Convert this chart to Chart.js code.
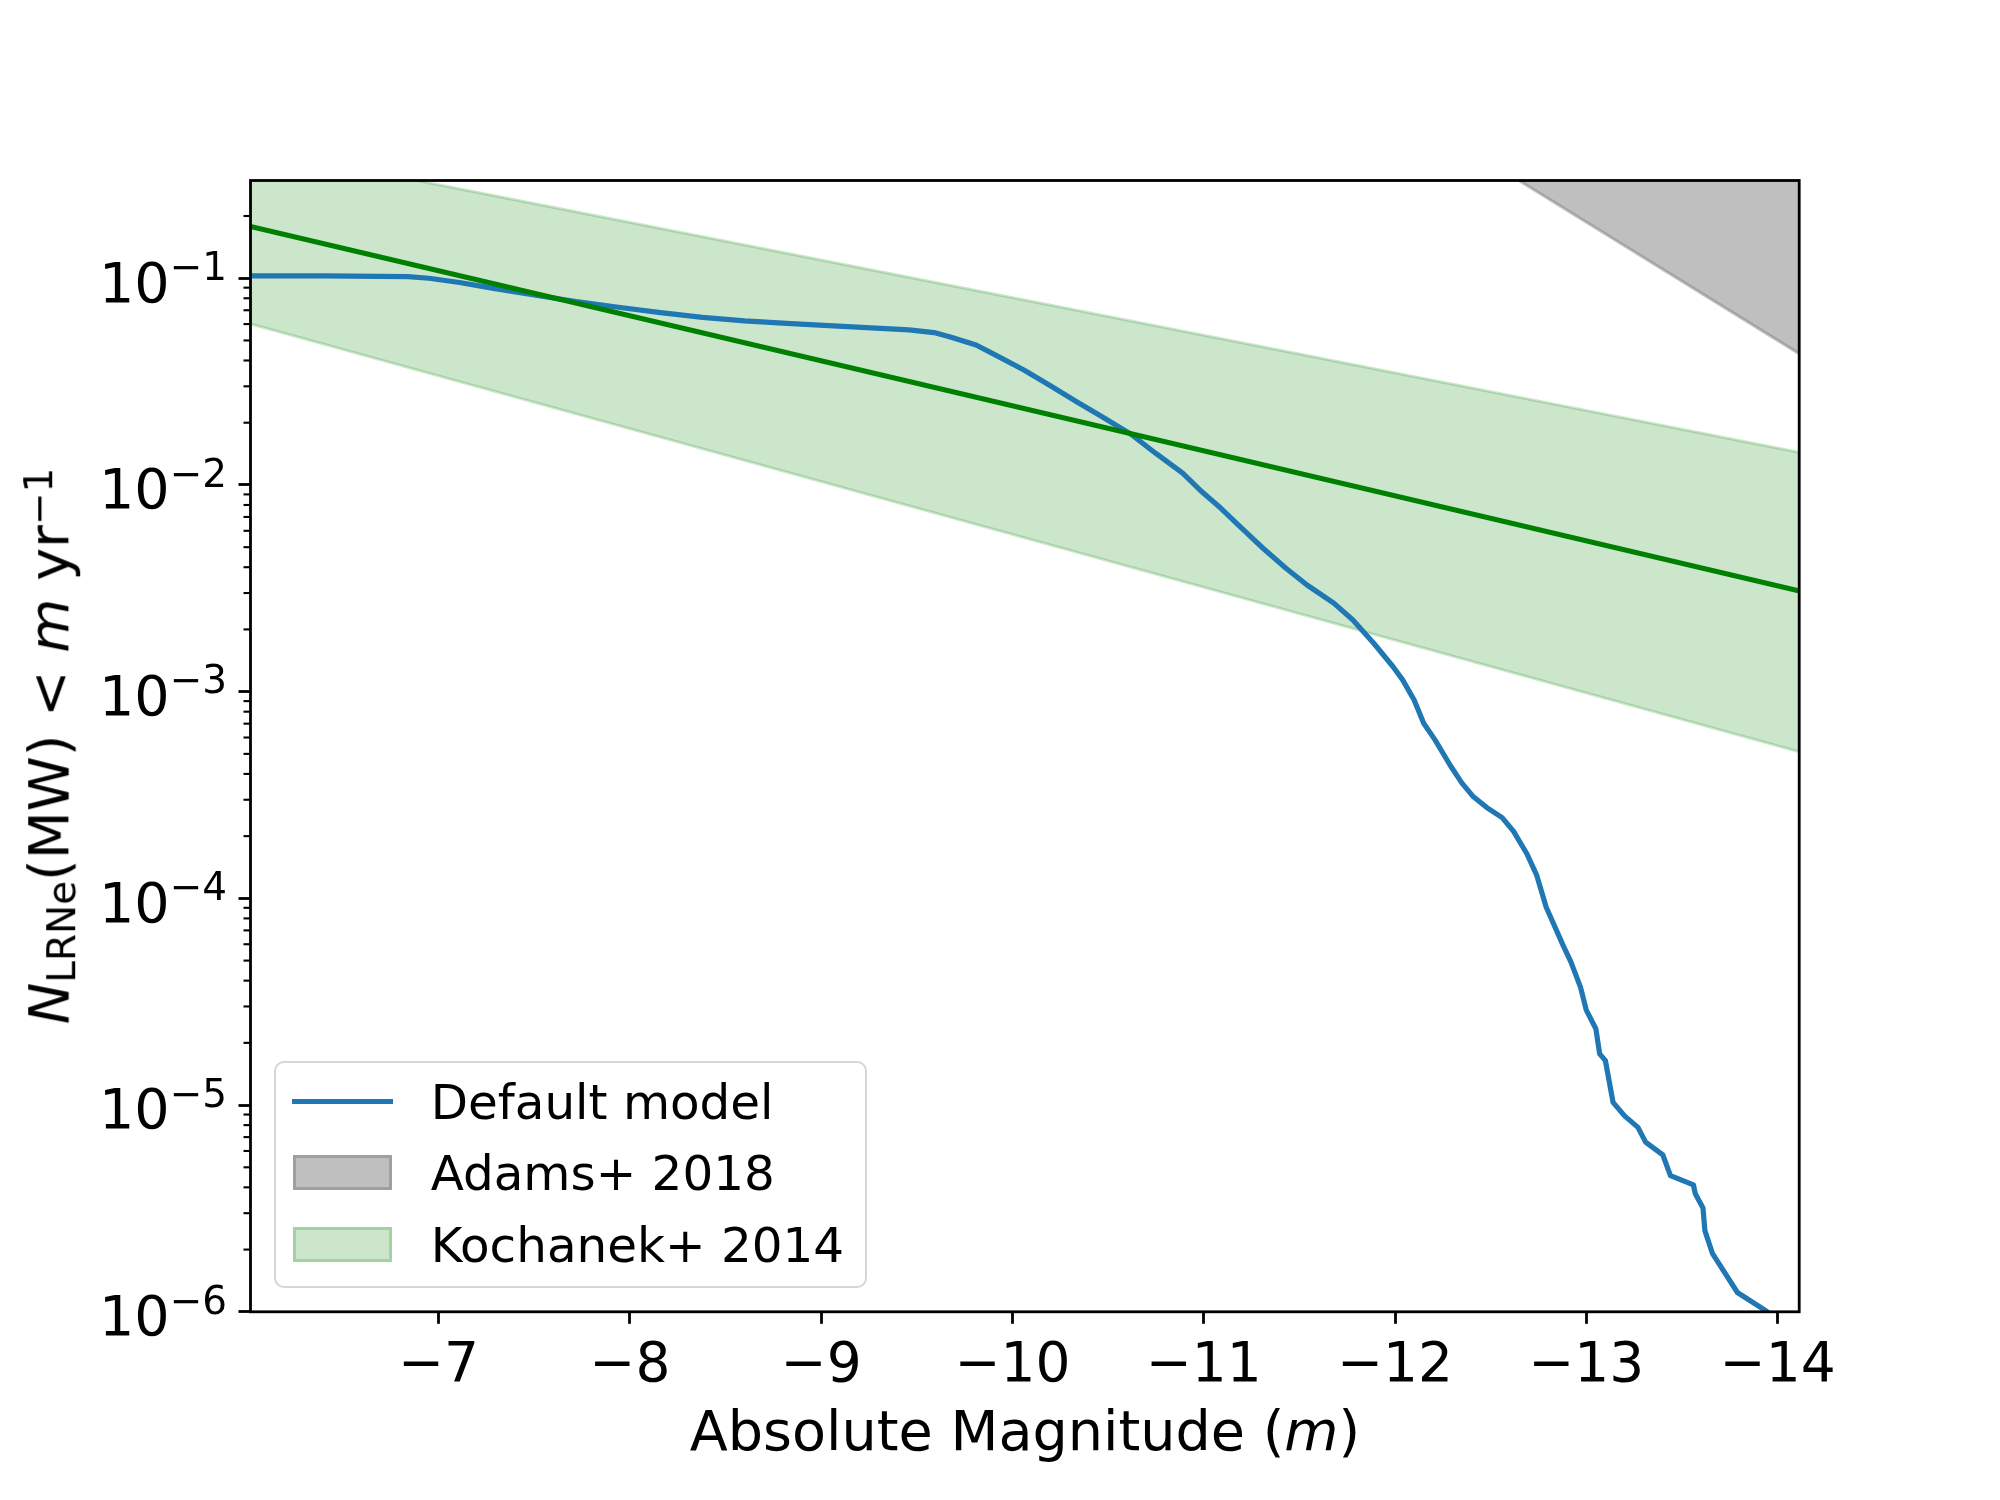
<!DOCTYPE html>
<html>
<head>
<meta charset="utf-8">
<script src="https://cdn.jsdelivr.net/npm/chart.js@4.4.1/dist/chart.umd.min.js"></script>
<style>
  body { margin: 0; background: #fff; }
  #wrap { position: relative; width: 2000px; height: 1500px; background: #fff; font-family: "DejaVu Sans", sans-serif; color: #000; }
  #chart { position: absolute; left: 0; top: 0; }
  .title { position: absolute; font-size: 55.6px; line-height: 1; white-space: nowrap; }
  .title i { font-style: oblique; }
  .sub { position: relative; font-size: 0.7em; top: 0.18em; }
  .sup { position: relative; font-size: 0.7em; top: -0.42em; }
  #xtitle { left: 1025px; top: 1403px; transform: translateX(-50%); }
  #ytitle { left: 49px; top: 746px; transform: translate(-50%, -50%) rotate(-90deg); }
  #legend { position: absolute; left: 273.7px; top: 1060.7px; width: 593px; height: 227px; box-sizing: border-box;
            border: 2.7px solid #d6d6d6; border-radius: 10px; background: rgba(255,255,255,0.8); }
  .lg-row { position: absolute; left: 0; width: 100%; }
  .lg-text { position: absolute; left: 155px; font-size: 48.4px; line-height: 1; white-space: nowrap; }
  .lg-line { position: absolute; left: 16px; width: 101px; height: 5.2px; }
  .lg-patch { position: absolute; left: 17px; width: 99px; height: 35px; box-sizing: border-box; border-style: solid; border-width: 3.5px; }
</style>
</head>
<body>
<div id="wrap">
  <canvas id="chart" width="2000" height="1500"></canvas>
  <div class="title" id="xtitle">Absolute Magnitude (<i>m</i>)</div>
  <div class="title" id="ytitle"><i>N</i><span class="sub">LRNe</span>(MW) &lt; <i>m</i> yr<span class="sup">−1</span></div>
  <div id="legend"></div>
</div>
<script>
// axis limits (x runs from faint to bright)
const xFaint = -6.017;
const xBright = -14.113;
const yMin = 1e-6;
const yMax = 0.297;

// default model: cumulative rate N(<m) per year
const modelMag = [-6.0, -6.40, -6.84, -6.95, -7.11, -7.28, -7.50, -7.72, -7.94, -8.16,
    -8.38, -8.60, -8.82, -9.04, -9.26, -9.46, -9.59, -9.68, -9.81, -9.92,
    -10.06, -10.19, -10.34, -10.46, -10.62, -10.75, -10.89, -10.98, -11.09, -11.19,
    -11.31, -11.43, -11.54, -11.68, -11.78, -11.89, -11.99, -12.04, -12.10, -12.15,
    -12.21, -12.29, -12.35, -12.41, -12.48, -12.56, -12.62, -12.69, -12.74, -12.79,
    -12.88, -12.92, -12.97, -13.00, -13.05, -13.07, -13.10, -13.14, -13.20, -13.27,
    -13.31, -13.40, -13.44, -13.56, -13.57, -13.61, -13.62, -13.66, -13.79, -13.94,
    -14.00];
const modelRate = [0.1026, 0.1026, 0.1019, 0.1000, 0.0953, 0.0895, 0.0830, 0.0771, 0.0724, 0.0682,
    0.0647, 0.0622, 0.0605, 0.0590, 0.0575, 0.0562, 0.0546, 0.0518, 0.0475, 0.0421,
    0.0360, 0.0305, 0.0251, 0.0216, 0.0176, 0.0142, 0.0114, 0.00946, 0.00771, 0.00628,
    0.00494, 0.00395, 0.00328, 0.00268, 0.00222, 0.00171, 0.00132, 0.00114, 9.12e-4, 7.03e-4,
    5.83e-4, 4.38e-4, 3.61e-4, 3.10e-4, 2.75e-4, 2.46e-4, 2.11e-4, 1.64e-4, 1.30e-4, 9.08e-5,
    5.89e-5, 4.92e-5, 3.71e-5, 2.88e-5, 2.34e-5, 1.77e-5, 1.64e-5, 1.03e-5, 8.87e-6, 7.80e-6,
    6.62e-6, 5.74e-6, 4.56e-6, 4.11e-6, 3.72e-6, 3.18e-6, 2.47e-6, 1.91e-6, 1.24e-6, 1.01e-6,
    9.1e-7];

// Kochanek+ 2014: fit and its range
const kochMag = [-6.0, -14.2];
const kochFit = [0.1794, 0.00294];
const kochHigh = [0.4306, 0.01386];
const kochLow = [0.0607, 0.000486];

// Adams+ 2018: region above this line
const adamsMag = [-12.5, -14.2];
const adamsRate = [0.361, 0.0385];

const xTicks = [-7, -8, -9, -10, -11, -12, -13, -14];

const FONT = 'DejaVu Sans';

function pts(xs, ys) {
    return xs.map((x, i) => ({ x: x, y: ys[i] }));
}

function isDecade(v) {
    const e = Math.log10(v);
    return Math.abs(e - Math.round(e)) < 1e-9;
}

// frame, short minor ticks and 10^n labels of the log axis
const framePlugin = {
    id: 'frame',
    afterDraw(chart) {
        const ctx = chart.ctx;
        const a = chart.chartArea;
        const ys = chart.scales.y;
        ctx.save();
        ctx.strokeStyle = '#000';
        ctx.fillStyle = '#000';
        ctx.lineWidth = 2.1;
        ys.ticks.forEach(t => {
            const py = ys.getPixelForValue(t.value);
            if (isDecade(t.value)) {
                const expText = '−' + Math.abs(Math.round(Math.log10(t.value)));
                ctx.font = '55.6px "' + FONT + '"';
                const wBase = ctx.measureText('10').width;
                ctx.font = '38.9px "' + FONT + '"';
                const wExp = ctx.measureText(expText).width;
                const x0 = a.left - 23.5 - wBase - wExp;
                ctx.textAlign = 'left';
                ctx.textBaseline = 'alphabetic';
                ctx.font = '55.6px "' + FONT + '"';
                ctx.fillText('10', x0, py + 23.4);
                ctx.font = '38.9px "' + FONT + '"';
                ctx.fillText(expText, x0 + wBase, py + 1.7);
                return;
            }
            ctx.beginPath();
            ctx.moveTo(a.left - 7, py);
            ctx.lineTo(a.left, py);
            ctx.stroke();
        });
        ctx.lineWidth = 2.8;
        ctx.strokeRect(a.left, a.top, a.right - a.left, a.bottom - a.top);
        ctx.restore();
    }
};

const chart = new Chart(document.getElementById('chart').getContext('2d'), {
    type: 'line',
    data: {
        datasets: [{
            label: 'Default model',
            data: pts(modelMag, modelRate),
            borderColor: '#1f77b4',
            borderWidth: 5.2,
            fill: false,
            order: 1
        }, {
            label: 'Adams+ 2018',
            data: pts(adamsMag, adamsRate),
            borderColor: 'rgba(128,128,128,0.5)',
            backgroundColor: 'rgba(128,128,128,0.5)',
            borderWidth: 3,
            fill: 'end',
            order: 3
        }, {
            label: 'Kochanek+ 2014',
            data: pts(kochMag, kochHigh),
            borderColor: 'rgba(0,128,0,0.2)',
            backgroundColor: 'rgba(0,128,0,0.2)',
            borderWidth: 3,
            fill: '+1',
            order: 3
        }, {
            label: '_band_low',
            data: pts(kochMag, kochLow),
            borderColor: 'rgba(0,128,0,0.2)',
            borderWidth: 3,
            fill: false,
            order: 3
        }, {
            label: '_fit',
            data: pts(kochMag, kochFit),
            borderColor: '#008000',
            borderWidth: 5.2,
            fill: false,
            order: 0
        }]
    },
    options: {
        responsive: false,
        animation: false,
        devicePixelRatio: 1,
        layout: { padding: { left: 0, top: 180.5, right: 200.8, bottom: 0 } },
        elements: {
            point: { radius: 0 },
            line: { tension: 0, borderCapStyle: 'butt', borderJoinStyle: 'round' }
        },
        datasets: { line: { clip: 0 } },
        plugins: {
            legend: { display: false },
            tooltip: { enabled: false },
            filler: { drawTime: 'beforeDatasetsDraw' }
        },
        scales: {
            x: {
                type: 'linear',
                reverse: true,
                min: xBright,
                max: xFaint,
                afterFit: s => { s.height = 188.2; },
                afterBuildTicks: s => { s.ticks = xTicks.map(v => ({ value: v })); },
                ticks: {
                    autoSkip: false,
                    maxRotation: 0,
                    padding: 10,
                    color: '#000',
                    font: { family: FONT, size: 55 },
                    callback: v => '−' + Math.abs(v)
                },
                grid: { drawOnChartArea: false, tickLength: 12, tickWidth: 2.8, tickColor: '#000' },
                border: { display: false }
            },
            y: {
                type: 'logarithmic',
                min: yMin,
                max: yMax,
                afterFit: s => { s.width = 250.5; },
                afterBuildTicks: s => {
                    s.ticks = s.ticks.filter(t => {
                        const m = t.value / Math.pow(10, Math.floor(Math.log10(t.value) + 1e-9));
                        return Math.abs(m - Math.round(m)) < 1e-6 && t.value <= yMax;
                    });
                },
                ticks: {
                    autoSkip: false,
                    padding: 14,
                    callback: () => ''
                },
                grid: {
                    drawOnChartArea: false,
                    tickLength: 12,
                    tickWidth: 2.8,
                    tickColor: c => (c.tick && isDecade(c.tick.value)) ? '#000' : 'rgba(0,0,0,0)'
                },
                border: { display: false }
            }
        }
    },
    plugins: [framePlugin]
});

// legend box in the lower left, built from the labelled datasets
const rowCenters = [38.6, 110.1, 181.8];
const legendBox = document.getElementById('legend');
chart.data.datasets.filter(d => !d.label.startsWith('_')).forEach((d, i) => {
    const row = document.createElement('div');
    row.className = 'lg-row';
    row.style.top = '0px';
    const cy = rowCenters[i];
    const handle = document.createElement('div');
    if (d.fill) {
        handle.className = 'lg-patch';
        handle.style.top = (cy - 17.5) + 'px';
        handle.style.background = d.backgroundColor;
        handle.style.borderColor = d.borderColor;
    } else {
        handle.className = 'lg-line';
        handle.style.top = (cy - 2.6) + 'px';
        handle.style.background = d.borderColor;
    }
    const text = document.createElement('div');
    text.className = 'lg-text';
    text.style.top = (cy + 17.5 - 41) + 'px';
    text.textContent = d.label;
    row.appendChild(handle);
    row.appendChild(text);
    legendBox.appendChild(row);
});
</script>
</body>
</html>
